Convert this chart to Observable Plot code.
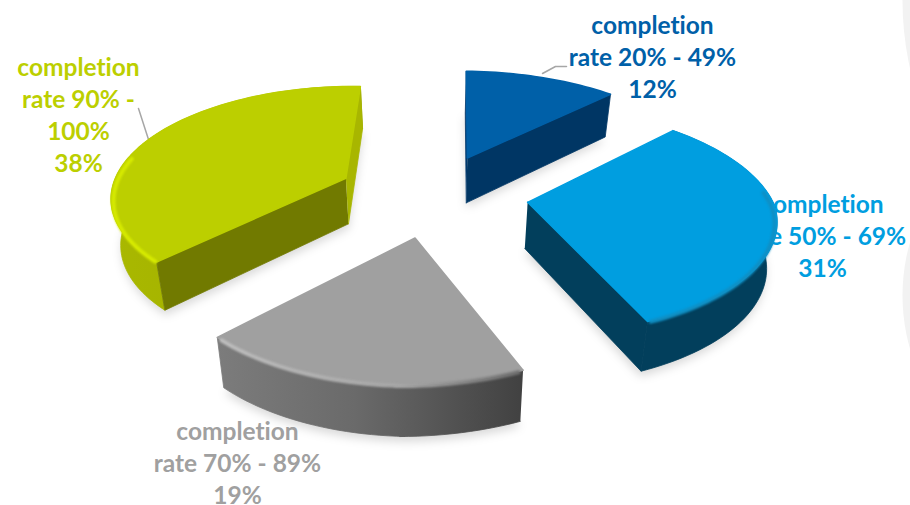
<!DOCTYPE html>
<html>
<head>
<meta charset="utf-8">
<script src="https://cdn.jsdelivr.net/npm/d3@7"></script>
<script src="https://cdn.jsdelivr.net/npm/@observablehq/plot@0.6"></script>
<style>
  html, body { margin: 0; background: #fff; }
  svg text { font-variant-ligatures: none; }
</style>
</head>
<body>
<div id="chart"></div>
<script>
// Share of learners in each completion-rate band
const bands = ["rate 20% - 49%", "rate 50% - 69%", "rate 70% - 89%", "rate 90% -\n100%"];
const shares = [12, 31, 19, 38];
const colors = ["#0060a8", "#009ee0", "#a0a0a0", "#bccf00"];

// Look of each slice's walls; null leaves a wall out where the top face hides it
const looks = [
  {arcWall: null, startWall: "#00386c", endWall: "#003664", rim: null, rimFrom: 0, rimTo: 0},
  {arcWall: "#023f5c", startWall: null, endWall: "#023f5c", rim: "#0f8fc4", rimFrom: 0.35, rimTo: 0.99},
  {arcWall: "url(#grayWall)", startWall: null, endWall: null, rim: "url(#grayRim)", rimFrom: 0.01, rimTo: 0.99},
  {arcWall: "url(#greenWall)", startWall: "#717a00", endWall: "#a8b600", rim: "#d6ea00", rimFrom: 0.01, rimTo: 0.42}
];

// Layout of the pie on a tilted plane; the right half of the pie bulges and leans slightly
const view = {
  cx: 432, cy: 194, sx: 234, sy: 110, shear: 4, tilt: 3,
  rightBulge: 1.045, rightLean: 12,
  perspective: 0.15, depth: 46, taper: 0.03, explodeX: 0.409, explodeY: 0.38
};

// Label placement
const labelX = [652, 822, 237, 78];
const labelY = [55, 234, 461, 113];
const leaders = [
  {x: [542, 555, 566], y: [73, 66, 66]},
  {x: [148, 138], y: [139, 108]}
];

// Pale backdrop curves along the right edge
const backdrop = [
  {x: 1212, y: 0, r: 310},
  {x: 1095, y: 295, r: 193}
];

const arcs = d3.pie().sort(null).value((d) => d)(shares);

function project(arc, rho, theta, z = 0) {
  const mid = (arc.startAngle + arc.endAngle) / 2;
  const sin = Math.sin(theta);
  const cos = Math.cos(theta);
  const right = sin > 0;
  const u = view.explodeX * Math.sin(mid) + rho * sin * (right ? view.rightBulge : 1);
  const v = view.explodeY * Math.cos(mid) + rho * cos;
  const w = 1 + view.perspective * v;
  const lean = right ? view.rightLean * rho * Math.min(cos, 0) : 0;
  const x = (view.sx * u + view.shear * v + lean) / w;
  const y = (view.tilt * u - view.sy * v) / w;
  return {x: view.cx + x * (1 - view.taper * z), y: view.cy + y + z * view.depth / Math.sqrt(w)};
}

function arcPath(arc, from, to, z, rho = 1) {
  const a = arc.startAngle + from * (arc.endAngle - arc.startAngle);
  const b = arc.startAngle + to * (arc.endAngle - arc.startAngle);
  const n = Math.max(2, Math.ceil(Math.abs(b - a) / 0.03));
  return d3.range(n + 1).map((i) => project(arc, rho, a + (b - a) * i / n, z));
}

const apex = (arc, z) => project(arc, 0, arc.startAngle, z);
const corner = (arc, angle, z) => project(arc, 1, angle, z);
const topFace = (arc) => [apex(arc, 0), ...arcPath(arc, 0, 1, 0), apex(arc, 0)];
const footprint = (arc) => [apex(arc, 1.1), ...arcPath(arc, 0, 1, 1.1), apex(arc, 1.1)];
const arcWall = (arc) => [...arcPath(arc, 0, 1, 0), ...arcPath(arc, 0, 1, 1).reverse()];
const sideWall = (arc, angle) => [apex(arc, 0), corner(arc, angle, 0), corner(arc, angle, 1), apex(arc, 1)];

function gradients() {
  const svg = d3.create("svg:g");
  const defs = svg.append("defs");
  const addGradient = (id, stops) => {
    const g = defs.append("linearGradient").attr("id", id);
    stops.forEach(([offset, color]) => g.append("stop").attr("offset", offset).attr("stop-color", color));
  };
  addGradient("grayWall", [[0, "#7c7c7c"], [0.45, "#6a6a6a"], [1, "#414141"]]);
  addGradient("grayRim", [[0, "#bdbdbd"], [0.6, "#a8a8a8"], [1, "#707070"]]);
  addGradient("greenWall", [[0, "#a9b800"], [0.6, "#a2b000"], [1, "#8f9b00"]]);
  return svg.node();
}

const polygon = (points, fill, extra = {}) =>
  Plot.line(points, {x: "x", y: "y", fill, stroke: "none", curve: "linear", ...extra});

const backdropMark = Plot.dot(backdrop, {x: "x", y: "y", r: (d) => d.r, fill: "#f2f2f2", stroke: "none"});

// Soft ground shadows sit under everything, including the labels
const shadowMarks = arcs.map((arc) =>
  polygon(footprint(arc), "#000", {fillOpacity: 0.15, imageFilter: "blur(5px)"})
);

const labelMark = Plot.text(shares.map((share, i) => ({
  text: `completion\n${bands[i]}\n${share}%`,
  x: labelX[i],
  y: labelY[i],
  color: colors[i]
})), {
  x: "x",
  y: "y",
  text: "text",
  fill: "color",
  fontSize: 24.5,
  fontWeight: 700,
  fontFamily: "Lato",
  lineHeight: 1.31,
  textAnchor: "middle"
});

const leaderMarks = leaders.map((l) =>
  Plot.line(l.x.map((x, i) => ({x, y: l.y[i]})), {x: "x", y: "y", stroke: "#a6a6a6", strokeWidth: 1.5})
);

const sliceMarks = arcs.flatMap((arc, i) => {
  const look = looks[i];
  const wall = (points, fill) => polygon(points, fill, {stroke: fill, strokeWidth: 0.8});
  const marks = [];
  if (look.arcWall) marks.push(wall(arcWall(arc), look.arcWall));
  if (look.startWall) marks.push(wall(sideWall(arc, arc.startAngle), look.startWall));
  if (look.endWall) marks.push(wall(sideWall(arc, arc.endAngle), look.endWall));
  marks.push(polygon(topFace(arc), colors[i], {stroke: colors[i], strokeWidth: 1.5, strokeLinejoin: "round"}));
  if (look.rim) {
    marks.push(Plot.line(arcPath(arc, look.rimFrom, look.rimTo, 0.05, 0.992), {
      x: "x", y: "y", stroke: look.rim, strokeWidth: 4, imageFilter: "blur(1px)"
    }));
  }
  return marks;
});

const chart = Plot.plot({
  width: 910,
  height: 505,
  margin: 0,
  x: {axis: null, domain: [0, 910]},
  y: {axis: null, domain: [505, 0]},
  r: {type: "identity"},
  style: {background: "#fff"},
  marks: [gradients, backdropMark, ...shadowMarks, labelMark, ...leaderMarks, ...sliceMarks]
});
document.getElementById("chart").append(chart);
</script>
</body>
</html>
